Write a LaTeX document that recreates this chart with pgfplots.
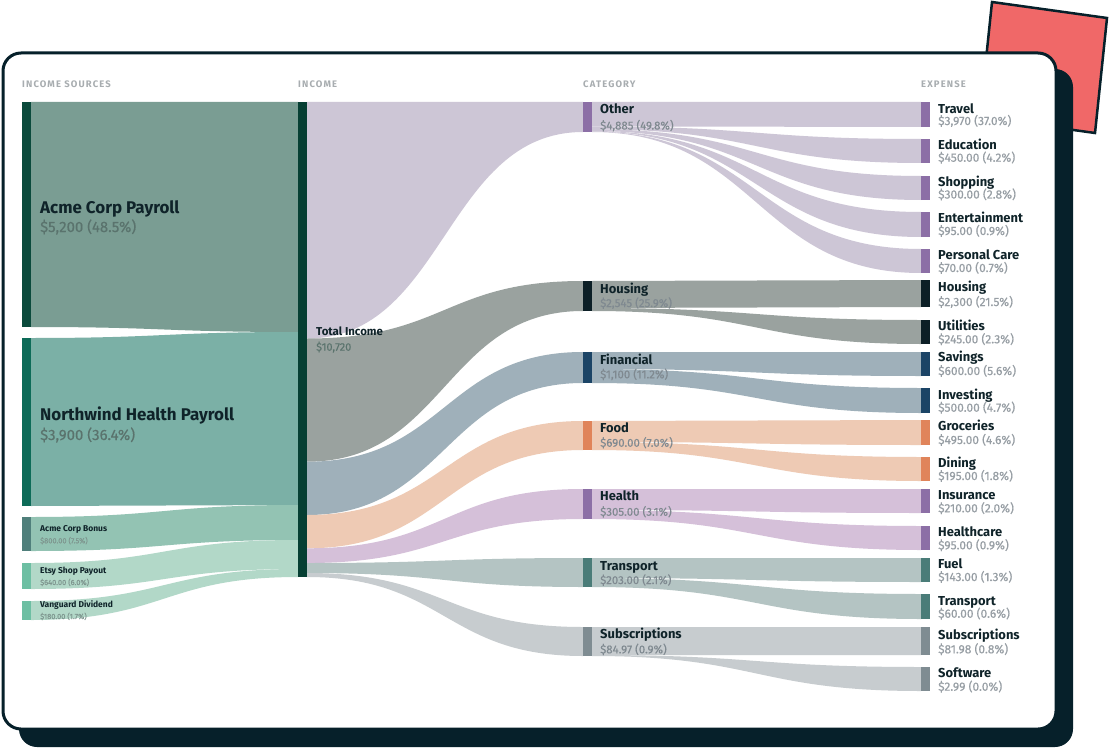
\documentclass[border=0pt]{standalone}
\usepackage{pgfplots}
\pgfplotsset{compat=1.18}
\usepackage{fontspec}
\setmainfont{Fira Sans}
\newfontfamily\headfont{Fira Sans}[LetterSpace=12]
\newfontfamily\valfont{Fira Sans}[FakeBold=0.35]

\definecolor{ink}{HTML}{06202A}
\definecolor{redsq}{HTML}{F06868}
\definecolor{hdr}{HTML}{A8ADB0}
\definecolor{nm}{HTML}{0F2329}
\definecolor{val}{HTML}{979EA4}
\definecolor{valc}{HTML}{7F8990}
\definecolor{vals}{HTML}{5A736D}
\definecolor{valss}{HTML}{7E968F}
% source nodes / flows
\definecolor{nAcme}{HTML}{0B4A3C}\definecolor{fAcme}{HTML}{7A9D93}
\definecolor{nNorth}{HTML}{0D6B58}\definecolor{fNorth}{HTML}{7BB0A6}
\definecolor{nBonus}{HTML}{4F7F7B}\definecolor{fBonus}{HTML}{93C3B3}
\definecolor{nEtsy}{HTML}{6DBFA3}\definecolor{fEtsy}{HTML}{B2D8C8}
\definecolor{nTotal}{HTML}{063F33}
% categories
\definecolor{nOther}{HTML}{8C6FA6}\definecolor{fOther}{HTML}{CDC6D6}
\definecolor{nHous}{HTML}{0C1F26}\definecolor{fHous}{HTML}{9AA29F}
\definecolor{nFin}{HTML}{1B4466}\definecolor{fFin}{HTML}{9FB0BA}
\definecolor{nFood}{HTML}{E0845A}\definecolor{fFood}{HTML}{EECAB4}
\definecolor{nHealth}{HTML}{8C6FA6}\definecolor{fHealth}{HTML}{D5C0D9}
\definecolor{nTrans}{HTML}{4A7C78}\definecolor{fTrans}{HTML}{B4C4C3}
\definecolor{nSubs}{HTML}{7F8C92}\definecolor{fSubs}{HTML}{C7CCCF}

% flow band: x0 x1 top0 bot0 top1 bot1 color xmid
\newcommand{\flow}[8]{\fill[#7] (axis cs:#1,#3) .. controls (axis cs:#8,#3) and (axis cs:#8,#5) .. (axis cs:#2,#5) -- (axis cs:#2,#6) .. controls (axis cs:#8,#6) and (axis cs:#8,#4) .. (axis cs:#1,#4) -- cycle;}
\newcommand{\flowA}[5]{\flow{31}{298}{#1}{#2}{#3}{#4}{#5}{164.5}}
\newcommand{\flowB}[5]{\flow{307}{583}{#1}{#2}{#3}{#4}{#5}{445}}
\newcommand{\flowC}[5]{\flow{592}{921}{#1}{#2}{#3}{#4}{#5}{756.5}}
% node bar: x0 x1 top bot color
\newcommand{\nodebar}[5]{\fill[#5] (axis cs:#1,#3) rectangle (axis cs:#2,#4);}
% label: x y fontsize color text
\newcommand{\lab}[5]{\node[anchor=base west, inner sep=0pt, text=#4, font=\valfont\fontsize{#3}{#3}\selectfont] at (axis cs:#1,#2) {#5};}
\newcommand{\labb}[5]{\node[anchor=base west, inner sep=0pt, text=#4, font=\fontsize{#3}{#3}\selectfont\bfseries] at (axis cs:#1,#2) {#5};}
\newcommand{\cat}[4]{\labb{600}{#1}{13}{nm}{#3}\lab{600}{#2}{11.5}{valc}{#4}}
\newcommand{\exps}[4]{\labb{938}{#1}{13}{nm}{#3}\lab{938}{#2}{12}{val}{#4}}
\newcommand{\hdrlab}[3]{\node[anchor=base west, inner sep=0pt, text=hdr, font=\headfont\fontsize{9.5}{9.5}\selectfont\bfseries] at (axis cs:#1,#2) {#3};}

\begin{document}
\begin{tikzpicture}
\begin{axis}[width=1110bp, height=748bp, scale only axis, hide axis,
  xmin=0, xmax=1110, ymin=0, ymax=748, y dir=reverse, clip=false]
% background and card
\fill[white] (axis cs:0,0) rectangle (axis cs:1110,748);
\filldraw[fill=redsq, draw=ink, line width=2.5bp, line join=miter] (axis cs:992,2) -- (axis cs:1107,18) -- (axis cs:1095,133) -- (axis cs:980,117) -- cycle;
\fill[ink, rounded corners=18bp] (axis cs:19,69) rectangle (axis cs:1073,747);
\filldraw[fill=white, draw=ink, line width=3bp, rounded corners=18bp] (axis cs:3,53) rectangle (axis cs:1056,729);

% headers
\hdrlab{22}{87.7}{INCOME SOURCES}
\hdrlab{298}{87.7}{INCOME}
\hdrlab{583}{87.7}{CATEGORY}
\hdrlab{921}{87.7}{EXPENSE}

% flows: sources -> total
\flowA{102}{327}{102}{332}{fAcme}
\flowA{338}{506}{332}{505}{fNorth}
\flowA{517}{551}{505}{540}{fBonus}
\flowA{563}{589}{540}{569}{fEtsy}
\flowA{601}{620}{569}{577}{fEtsy}
% flows: total -> categories
\flowB{102}{338.5}{102}{132}{fOther}
\flowB{338.5}{461.7}{281}{311}{fHous}
\flowB{461.7}{515}{352}{383}{fFin}
\flowB{515}{548.3}{421}{450}{fFood}
\flowB{548.3}{563}{489}{519}{fHealth}
\flowB{563}{573}{558}{587}{fTrans}
\flowB{573}{577}{627}{656}{fSubs}
% flows: categories -> expenses
\flowC{102}{126.4}{102}{127}{fOther}
\flowC{126.4}{129.2}{139}{163}{fOther}
\flowC{129.2}{131}{176}{200}{fOther}
\flowC{131}{131.6}{212}{237}{fOther}
\flowC{131.6}{132}{249}{273}{fOther}
\flowC{281}{308}{280}{307}{fHous}
\flowC{308}{311}{320}{344}{fHous}
\flowC{352}{369}{352}{376}{fFin}
\flowC{369}{383}{388}{413}{fFin}
\flowC{421}{442}{420}{445}{fFood}
\flowC{442}{450}{457}{481}{fFood}
\flowC{489}{510}{489}{513}{fHealth}
\flowC{510}{519}{526}{550}{fHealth}
\flowC{558}{578}{558}{582}{fTrans}
\flowC{578}{587}{594}{619}{fTrans}
\flowC{627}{655}{627}{655}{fSubs}
\flowC{655}{656}{667}{691}{fSubs}

% nodes: sources
\nodebar{22}{31}{102}{327}{nAcme}
\nodebar{22}{31}{338}{506}{nNorth}
\nodebar{22}{31}{517}{551}{nBonus}
\nodebar{22}{31}{563}{589}{nEtsy}
\nodebar{22}{31}{601}{620}{nEtsy}
% total
\nodebar{298}{307}{102}{577}{nTotal}
% categories
\nodebar{583}{592}{102}{132}{nOther}
\nodebar{583}{592}{281}{311}{nHous}
\nodebar{583}{592}{352}{383}{nFin}
\nodebar{583}{592}{421}{450}{nFood}
\nodebar{583}{592}{489}{519}{nHealth}
\nodebar{583}{592}{558}{587}{nTrans}
\nodebar{583}{592}{627}{656}{nSubs}
% expenses
\nodebar{921}{930}{102}{127}{nOther}
\nodebar{921}{930}{139}{163}{nOther}
\nodebar{921}{930}{176}{200}{nOther}
\nodebar{921}{930}{212}{237}{nOther}
\nodebar{921}{930}{249}{273}{nOther}
\nodebar{921}{930}{280}{307}{nHous}
\nodebar{921}{930}{320}{344}{nHous}
\nodebar{921}{930}{352}{376}{nFin}
\nodebar{921}{930}{388}{413}{nFin}
\nodebar{921}{930}{420}{445}{nFood}
\nodebar{921}{930}{457}{481}{nFood}
\nodebar{921}{930}{489}{513}{nHealth}
\nodebar{921}{930}{526}{550}{nHealth}
\nodebar{921}{930}{558}{582}{nTrans}
\nodebar{921}{930}{594}{619}{nTrans}
\nodebar{921}{930}{627}{655}{nSubs}
\nodebar{921}{930}{667}{691}{nSubs}

% labels: sources
\labb{40}{213}{17}{nm}{Acme Corp Payroll}
\lab{40}{232}{15}{vals}{\$5,200 (48.5\%)}
\labb{40}{420}{17}{nm}{Northwind Health Payroll}
\lab{40}{440}{15}{vals}{\$3,900 (36.4\%)}
\labb{40}{531.7}{8.5}{nm}{Acme Corp Bonus}
\lab{40}{543.3}{7.5}{valss}{\$800.00 (7.5\%)}
\labb{40}{573.3}{8.5}{nm}{Etsy Shop Payout}
\lab{40}{585}{7.5}{valss}{\$640.00 (6.0\%)}
\labb{40}{607.7}{8.5}{nm}{Vanguard Dividend}
\lab{40}{619}{7.5}{valss}{\$180.00 (1.7\%)}
% total
\labb{316}{335}{11.5}{nm}{Total Income}
\lab{316}{350.7}{11}{vals}{\$10,720}
% categories
\cat{114}{129.5}{Other}{\$4,885 (49.8\%)}
\cat{293}{307}{Housing}{\$2,545 (25.9\%)}
\cat{364}{378.3}{Financial}{\$1,100 (11.2\%)}
\cat{432.3}{446.7}{Food}{\$690.00 (7.0\%)}
\cat{500.7}{515.7}{Health}{\$305.00 (3.1\%)}
\cat{570}{584}{Transport}{\$203.00 (2.1\%)}
\cat{638.3}{653.3}{Subscriptions}{\$84.97 (0.9\%)}
% expenses
\exps{113.3}{125}{Travel}{\$3,970 (37.0\%)}
\exps{149.3}{161.7}{Education}{\$450.00 (4.2\%)}
\exps{186.5}{198.5}{Shopping}{\$300.00 (2.8\%)}
\exps{222.5}{235}{Entertainment}{\$95.00 (0.9\%)}
\exps{259.5}{272}{Personal Care}{\$70.00 (0.7\%)}
\exps{291.7}{306}{Housing}{\$2,300 (21.5\%)}
\exps{330}{343.3}{Utilities}{\$245.00 (2.3\%)}
\exps{361.7}{375}{Savings}{\$600.00 (5.6\%)}
\exps{399}{411.7}{Investing}{\$500.00 (4.7\%)}
\exps{430.7}{444}{Groceries}{\$495.00 (4.6\%)}
\exps{467}{480}{Dining}{\$195.00 (1.8\%)}
\exps{499.3}{512.3}{Insurance}{\$210.00 (2.0\%)}
\exps{536}{549.3}{Healthcare}{\$95.00 (0.9\%)}
\exps{568.3}{581}{Fuel}{\$143.00 (1.3\%)}
\exps{605}{617.7}{Transport}{\$60.00 (0.6\%)}
\exps{639}{653.3}{Subscriptions}{\$81.98 (0.8\%)}
\exps{677.3}{690.7}{Software}{\$2.99 (0.0\%)}
\end{axis}
\end{tikzpicture}
\end{document}
